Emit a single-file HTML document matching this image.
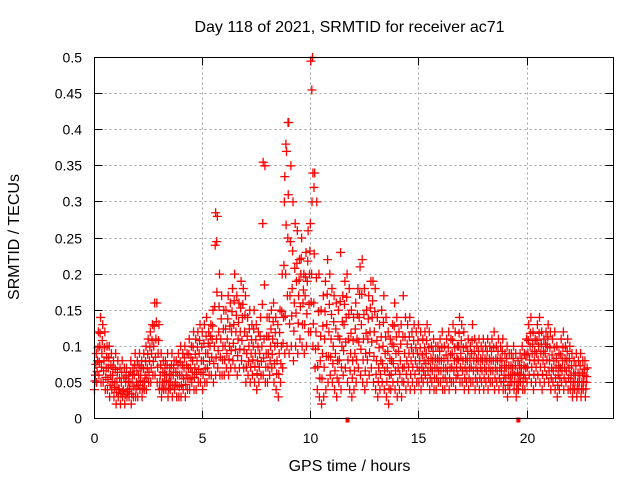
<!DOCTYPE html>
<html><head><meta charset="utf-8"><style>
body{margin:0;background:#fff}
svg{display:block;font-family:"Liberation Sans",sans-serif;font-size:14px}
</style></head><body>
<svg id="chart" width="640" height="480" viewBox="0 0 640 480" xmlns="http://www.w3.org/2000/svg">
<rect width="640" height="480" fill="#fff"/>
<text x="349.5" y="32" text-anchor="middle" font-size="16">Day 118 of 2021, SRMTID for receiver ac71</text>
<text transform="translate(19,237) rotate(-90)" text-anchor="middle" font-size="16">SRMTID / TECUs</text>
<text x="349.5" y="471" text-anchor="middle" font-size="16">GPS time / hours</text>
<g id="grid"></g><g id="ticks"></g><g id="marks"></g>
<rect x="94.5" y="57.5" width="519" height="361" fill="none" stroke="#000" stroke-width="1"/>
</svg>
<script>
const xTicks=[0,5,10,15,20];
const yTicks=[0,0.05,0.1,0.15,0.2,0.25,0.3,0.35,0.4,0.45,0.5];
const yTickLabels=["0","0.05","0.1","0.15","0.2","0.25","0.3","0.35","0.4","0.45","0.5"];
const step=0.1;
const lo=[.04,.05,.06,.05,.05,.04,.04,.03,.04,.03,
.02,.03,.02,.03,.02,.03,.03,.02,.03,.03,
.03,.04,.03,.04,.04,.05,.05,.06,.06,.05,
.04,.03,.04,.04,.03,.04,.03,.04,.03,.03,
.03,.04,.03,.04,.04,.05,.04,.04,.05,.05,
.04,.05,.05,.06,.06,.05,.06,.07,.06,.06,
.06,.07,.06,.07,.08,.07,.06,.07,.08,.07,
.05,.06,.05,.06,.05,.04,.05,.06,.06,.05,
.05,.06,.07,.05,.04,.03,.05,.07,.09,.10,
.09,.10,.08,.10,.09,.11,.10,.09,.10,.12,
.12,.10,.07,.04,.03,.02,.03,.04,.05,.06,
.05,.04,.03,.05,.04,.06,.07,.05,.04,.03,
.04,.05,.07,.06,.05,.04,.05,.06,.07,.05,
.04,.03,.04,.05,.04,.03,.02,.04,.05,.04,
.03,.04,.03,.05,.04,.05,.04,.05,.04,.05,
.05,.04,.05,.06,.05,.04,.05,.04,.04,.05,
.05,.04,.04,.05,.04,.05,.05,.04,.06,.05,
.05,.04,.05,.04,.05,.05,.04,.05,.04,.05,
.04,.05,.04,.05,.05,.04,.05,.04,.05,.04,
.04,.03,.04,.05,.04,.03,.04,.05,.04,.04,
.05,.06,.05,.04,.05,.06,.05,.04,.05,.06,
.05,.04,.05,.04,.03,.04,.05,.04,.05,.04,
.04,.03,.04,.03,.04,.03,.04,.03];
const q1=[.052,.065,.078,.071,.066,.057,.054,.046,.051,.043,
.036,.041,.034,.038,.033,.037,.041,.034,.044,.041,
.046,.052,.042,.051,.056,.064,.07,.079,.085,.071,
.05,.042,.05,.052,.042,.05,.046,.046,.046,.044,
.046,.055,.047,.056,.055,.064,.057,.061,.068,.064,
.061,.069,.07,.079,.085,.076,.084,.094,.085,.081,
.081,.09,.082,.094,.104,.095,.087,.096,.108,.095,
.071,.079,.071,.081,.072,.062,.071,.079,.084,.071,
.071,.08,.089,.076,.062,.061,.076,.104,.142,.17,
.131,.142,.121,.146,.132,.155,.13,.13,.145,.158,
.161,.131,.096,.072,.056,.055,.071,.086,.086,.085,
.076,.066,.056,.081,.071,.094,.106,.081,.066,.056,
.066,.081,.106,.096,.081,.066,.081,.091,.106,.086,
.061,.051,.061,.076,.066,.051,.041,.061,.076,.066,
.051,.061,.051,.071,.061,.071,.061,.071,.061,.071,
.066,.056,.066,.076,.066,.056,.066,.056,.056,.066,
.066,.056,.056,.066,.056,.071,.066,.056,.081,.071,
.066,.056,.066,.056,.071,.066,.056,.066,.056,.066,
.056,.066,.056,.066,.066,.056,.066,.056,.066,.051,
.056,.046,.051,.061,.051,.041,.051,.061,.051,.056,
.071,.081,.071,.061,.071,.081,.071,.061,.071,.081,
.066,.056,.066,.056,.046,.056,.066,.056,.066,.056,
.051,.041,.051,.041,.051,.041,.051,.041];
const mid=[.06,.08,.10,.09,.08,.07,.07,.06,.06,.05,
.05,.04,.05,.04,.05,.04,.05,.05,.06,.05,
.06,.06,.05,.06,.07,.08,.09,.10,.11,.09,
.06,.05,.06,.06,.05,.06,.06,.05,.06,.06,
.06,.07,.06,.07,.07,.08,.07,.08,.09,.08,
.08,.09,.09,.10,.11,.10,.11,.12,.11,.10,
.10,.11,.10,.12,.13,.12,.11,.12,.14,.12,
.09,.10,.09,.10,.09,.08,.09,.10,.11,.09,
.09,.10,.11,.10,.08,.09,.10,.14,.20,.25,
.17,.18,.16,.19,.17,.20,.16,.17,.19,.20,
.20,.16,.12,.10,.08,.09,.11,.13,.12,.11,
.10,.09,.08,.11,.10,.13,.14,.11,.09,.08,
.09,.11,.14,.13,.11,.09,.11,.12,.14,.12,
.08,.07,.08,.10,.09,.07,.06,.08,.10,.09,
.07,.08,.07,.09,.08,.09,.08,.09,.08,.09,
.08,.07,.08,.09,.08,.07,.08,.07,.07,.08,
.08,.07,.07,.08,.07,.09,.08,.07,.10,.09,
.08,.07,.08,.07,.09,.08,.07,.08,.07,.08,
.07,.08,.07,.08,.08,.07,.08,.07,.08,.06,
.07,.06,.06,.07,.06,.05,.06,.07,.06,.07,
.09,.10,.09,.08,.09,.10,.09,.08,.09,.10,
.08,.07,.08,.07,.06,.07,.08,.07,.08,.07,
.06,.05,.06,.05,.06,.05,.06,.05];
const q3=[.075,.098,.118,.108,.098,.085,.084,.074,.071,.068,
.064,.056,.064,.056,.059,.051,.064,.061,.074,.066,
.074,.071,.069,.079,.089,.099,.108,.128,.134,.108,
.074,.064,.07,.074,.061,.074,.07,.064,.074,.078,
.074,.084,.074,.089,.084,.099,.089,.099,.108,.099,
.104,.114,.104,.114,.128,.155,.175,.155,.138,.124,
.124,.138,.128,.148,.163,.143,.133,.153,.158,.143,
.114,.124,.109,.124,.109,.099,.114,.158,.185,.114,
.114,.124,.134,.119,.104,.119,.148,.212,.268,.31,
.245,.232,.208,.215,.192,.222,.178,.196,.218,.232,
.3,.228,.195,.148,.114,.128,.148,.172,.158,.144,
.134,.124,.114,.162,.134,.158,.168,.144,.118,.108,
.124,.144,.172,.172,.144,.118,.138,.153,.163,.148,
.108,.098,.113,.133,.113,.093,.083,.103,.128,.113,
.093,.103,.113,.113,.103,.113,.098,.108,.098,.108,
.098,.088,.098,.108,.098,.083,.093,.083,.083,.093,
.098,.083,.088,.098,.088,.108,.098,.083,.118,.108,
.098,.083,.093,.083,.108,.093,.083,.093,.083,.093,
.083,.093,.083,.093,.098,.083,.093,.083,.093,.073,
.083,.073,.073,.083,.073,.063,.073,.083,.073,.088,
.108,.118,.103,.093,.108,.118,.103,.093,.103,.113,
.098,.088,.098,.083,.073,.088,.098,.083,.093,.083,
.073,.063,.073,.063,.073,.063,.068,.058];
const hi=[.09,.12,.14,.13,.12,.10,.10,.09,.08,.09,
.08,.07,.08,.07,.07,.06,.08,.07,.09,.08,
.09,.08,.09,.10,.11,.12,.13,.16,.16,.13,
.09,.08,.08,.09,.07,.09,.08,.08,.09,.10,
.09,.10,.09,.11,.10,.12,.11,.12,.13,.12,
.13,.14,.12,.13,.15,.24,.28,.20,.17,.15,
.15,.17,.16,.18,.20,.17,.16,.19,.18,.17,
.14,.15,.13,.15,.13,.12,.14,.27,.35,.14,
.14,.15,.16,.14,.13,.15,.20,.30,.37,.41,
.35,.30,.27,.26,.22,.25,.20,.23,.26,.27,
.50,.34,.30,.20,.15,.17,.19,.22,.20,.18,
.17,.16,.15,.23,.17,.19,.20,.18,.15,.14,
.16,.18,.21,.22,.18,.15,.17,.19,.19,.18,
.14,.13,.15,.17,.14,.12,.11,.13,.16,.14,
.12,.13,.17,.14,.13,.14,.12,.13,.12,.13,
.12,.11,.12,.13,.12,.10,.11,.10,.10,.11,
.12,.10,.11,.12,.11,.13,.12,.10,.14,.13,
.12,.10,.11,.10,.13,.11,.10,.11,.10,.11,
.10,.11,.10,.11,.12,.10,.11,.10,.11,.09,
.10,.09,.09,.10,.09,.08,.09,.10,.09,.11,
.13,.14,.12,.11,.13,.14,.12,.11,.12,.13,
.12,.11,.12,.10,.09,.11,.12,.10,.11,.10,
.09,.08,.09,.08,.09,.08,.08,.07];
const extraT=[10.0,10.05,8.95,8.85,8.8,7.8,5.6,5.65,10.1,10.15];
const extraV=[.495,.455,.41,.38,.335,.355,.285,.245,.34,.32];
const axisMarkT=[11.7,19.6];

const X0=94.5,X1=613.5,Y0=418.5,Y1=57.5,XMAX=24,YMAX=0.5;
const sx=t=>X0+t/XMAX*(X1-X0);
const sy=v=>Y0-v/YMAX*(Y0-Y1);
const NS="http://www.w3.org/2000/svg";
function mk(tag,attrs,parent){const e=document.createElementNS(NS,tag);for(const k in attrs)e.setAttribute(k,attrs[k]);parent.appendChild(e);return e;}
const grid=document.getElementById('grid'),ticks=document.getElementById('ticks'),marks=document.getElementById('marks');
yTicks.forEach((v,i)=>{
  const y=Math.round(sy(v)-0.5)+0.5;
  if(i>0&&i<yTicks.length-1){const g=mk('line',{x1:X0,x2:X1,y1:y,y2:y,stroke:'#a0a0a0','stroke-dasharray':'2,3'},grid);
  
  }
  mk('line',{x1:X0,x2:X0+8,y1:y,y2:y,stroke:'#000'},ticks);
  mk('line',{x1:X1-8,x2:X1,y1:y,y2:y,stroke:'#000'},ticks);
  const t=mk('text',{x:82,y:y+5,'text-anchor':'end'},ticks);t.textContent=yTickLabels[i];
  
  
});
xTicks.forEach(v=>{
  const x=Math.round(sx(v)-0.5)+0.5;
  if(v>0){const g=mk('line',{x1:x,x2:x,y1:Y1,y2:Y0,stroke:'#a0a0a0','stroke-dasharray':'2,3'},grid);
  
  }
  mk('line',{x1:x,x2:x,y1:Y0,y2:Y0-8,stroke:'#000'},ticks);
  mk('line',{x1:x,x2:x,y1:Y1,y2:Y1+8,stroke:'#000'},ticks);
  const t=mk('text',{x:x,y:443,'text-anchor':'middle'},ticks);t.textContent=String(v);
  
  
});
function plus(t,v,col){
  const x=sx(t),y=sy(v);
  const p=mk('path',{d:`M${x-4.5} ${y}h9M${x} ${y-4.5}v9`,stroke:col,'stroke-width':1.3,fill:'none'},marks);
  
  
}
for(let i=0;i<lo.length;i++){
  const t=i*step;
  plus(t,lo[i],'#f00');
  plus(t+0.02,q1[i],'#f00');
  plus(t+0.04,mid[i],'#f00');
  plus(t+0.06,q3[i],'#f00');
  plus(t+0.08,hi[i],'#f00');
}
for(let i=0;i<extraT.length;i++)plus(extraT[i],extraV[i],'#f00');
axisMarkT.forEach(t=>{
  const r=mk('rect',{x:sx(t)-2,y:Y0-1,width:4,height:5,fill:'#f00'},marks);
  
  
});
</script>
</body></html>
